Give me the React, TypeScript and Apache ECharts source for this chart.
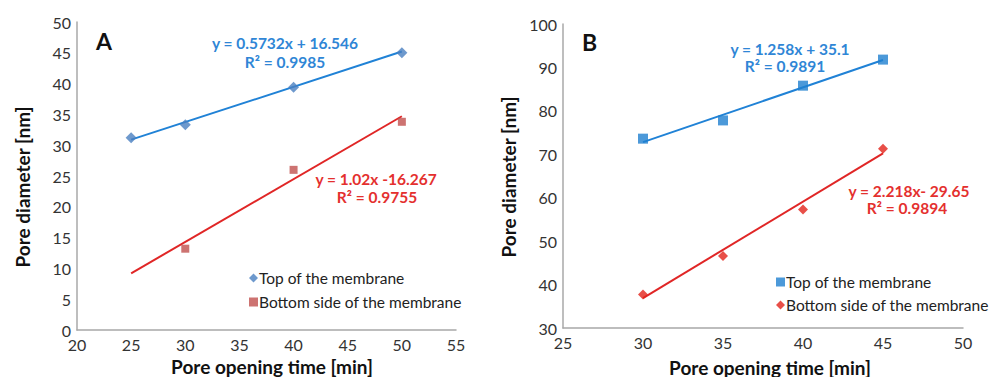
import React, { useEffect, useRef } from "react";
import * as echarts from "echarts";

// Panel A data
const aTop: [number, number][] = [[25, 31.2], [30, 33.3], [40, 39.4], [50, 45.0]];
const aBottom: [number, number][] = [[30, 13.2], [40, 26.0], [50, 33.8]];
const aTopTrend: [number, number][] = [[25, 30.9], [50, 45.2]];
const aBottomTrend: [number, number][] = [[25, 9.2], [50, 34.7]];
// Panel B data
const bTop: [number, number][] = [[30, 73.6], [35, 77.8], [40, 85.8], [45, 91.8]];
const bBottom: [number, number][] = [[30, 37.7], [35, 46.6], [40, 57.3], [45, 71.3]];
const bTopTrend: [number, number][] = [[30, 72.8], [45, 91.7]];
const bBottomTrend: [number, number][] = [[30, 36.9], [45, 70.2]];

const seriesNames = ["Top of the membrane", "Bottom side of the membrane"];
const eqA = ["y = 0.5732x + 16.546", "R² = 0.9985", "y = 1.02x -16.267", "R² = 0.9755"];
const eqB = ["y = 1.258x + 35.1", "R² = 0.9891", "y = 2.218x- 29.65", "R² = 0.9894"];
const xTitle = "Pore opening time [min]";
const yTitle = "Pore diameter [nm]";

const FONT = "Lato, 'Open Sans', sans-serif";
const AXIS_COLOR = "#a8a8a8";
const BLUE_LINE = "#2082d6";
const RED_LINE = "#e02626";
const BLUE_TXT = "#2f86d6";
const RED_TXT = "#e4302e";

export default function App() {
  const ref = useRef<HTMLDivElement>(null);
  useEffect(() => {
    document.body.style.margin = "0";
    const chart = echarts.init(ref.current!, undefined, { renderer: "svg" });
    const axisCommon = {
      type: "value" as const,
      axisLine: { show: true, lineStyle: { color: AXIS_COLOR, width: 1.5 } },
      axisTick: { show: false },
      splitLine: { show: false },
      axisLabel: { color: "#333", fontSize: 16, fontFamily: FONT, margin: 6 },
    };
    const eqText = (x: number, y: number, text: string, color: string) => ({
      type: "text",
      x,
      y,
      style: {
        text,
        fill: color,
        font: `bold 15.5px ${FONT}`,
        align: "center",
        verticalAlign: "middle",
      },
    });
    const titleText = (x: number, y: number, text: string, rotation = 0) => ({
      type: "text",
      x,
      y,
      rotation,
      style: {
        text,
        fill: "#111",
        font: `bold 19px ${FONT}`,
        align: "center",
        verticalAlign: "middle",
      },
    });
    const legendText = { color: "#222", fontSize: 15.5, fontFamily: FONT, padding: [0, 0, 0, -4] };
    chart.setOption({
      animation: false,
      grid: [
        { left: 77, right: 551, top: 22, bottom: 47 },
        { left: 563, right: 44, top: 24, bottom: 49 },
      ],
      xAxis: [
        { ...axisCommon, gridIndex: 0, min: 20, max: 55, interval: 5 },
        { ...axisCommon, gridIndex: 1, min: 25, max: 50, interval: 5 },
      ],
      yAxis: [
        { ...axisCommon, gridIndex: 0, min: 0, max: 50, interval: 5 },
        { ...axisCommon, gridIndex: 1, min: 30, max: 100, interval: 10 },
      ],
      legend: [
        {
          orient: "vertical", left: 244, top: 265, itemWidth: 9, itemHeight: 9, itemGap: 8,
          textStyle: legendText,
          data: [
            { name: seriesNames[0], icon: "diamond", itemStyle: { color: "#4a7fc0" } },
            { name: seriesNames[1], icon: "rect", itemStyle: { color: "#c0504d" } },
          ],
        },
        {
          orient: "vertical", left: 771, top: 269, itemWidth: 9, itemHeight: 9, itemGap: 7,
          textStyle: legendText,
          data: [
            { name: seriesNames[0], icon: "rect", itemStyle: { color: "#1f7fd0" } },
            { name: seriesNames[1], icon: "diamond", itemStyle: { color: "#e2231a" } },
          ],
        },
      ],
      series: [
        { type: "line", xAxisIndex: 0, yAxisIndex: 0, data: aTopTrend, showSymbol: false, symbol: "none",
          lineStyle: { color: BLUE_LINE, width: 2 }, z: 1, silent: true },
        { type: "line", xAxisIndex: 0, yAxisIndex: 0, data: aBottomTrend, showSymbol: false, symbol: "none",
          lineStyle: { color: RED_LINE, width: 2 }, z: 1, silent: true },
        { type: "scatter", name: seriesNames[0], xAxisIndex: 0, yAxisIndex: 0, data: aTop, symbol: "diamond",
          symbolSize: 11, itemStyle: { color: "#4a7fc0" }, z: 3 },
        { type: "scatter", name: seriesNames[1], xAxisIndex: 0, yAxisIndex: 0, data: aBottom, symbol: "rect",
          symbolSize: 8, itemStyle: { color: "#c0504d" }, z: 3 },
        { type: "line", xAxisIndex: 1, yAxisIndex: 1, data: bTopTrend, showSymbol: false, symbol: "none",
          lineStyle: { color: BLUE_LINE, width: 2 }, z: 1, silent: true },
        { type: "line", xAxisIndex: 1, yAxisIndex: 1, data: bBottomTrend, showSymbol: false, symbol: "none",
          lineStyle: { color: RED_LINE, width: 2 }, z: 1, silent: true },
        { type: "scatter", name: seriesNames[0], xAxisIndex: 1, yAxisIndex: 1, data: bTop, symbol: "rect",
          symbolSize: 10, itemStyle: { color: "#1f7fd0" }, z: 3 },
        { type: "scatter", name: seriesNames[1], xAxisIndex: 1, yAxisIndex: 1, data: bBottom, symbol: "diamond",
          symbolSize: 10, itemStyle: { color: "#e2231a" }, z: 3 },
      ],
      graphic: [
        { type: "text", x: 96, y: 29, style: { text: "A", fill: "#111", font: `bold 23px ${FONT}` } },
        { type: "text", x: 582, y: 30, style: { text: "B", fill: "#111", font: `bold 23px ${FONT}` } },
        titleText(22, 187, yTitle, Math.PI / 2),
        titleText(508, 177, yTitle, Math.PI / 2),
        titleText(272, 366, xTitle),
        titleText(770, 367, xTitle),
        eqText(285, 43, eqA[0], BLUE_TXT),
        eqText(285, 62, eqA[1], BLUE_TXT),
        eqText(376, 179, eqA[2], RED_TXT),
        eqText(377, 197, eqA[3], RED_TXT),
        eqText(790, 49, eqB[0], BLUE_TXT),
        eqText(785, 66, eqB[1], BLUE_TXT),
        eqText(909, 191, eqB[2], RED_TXT),
        eqText(907, 208, eqB[3], RED_TXT),
      ],
    });
    return () => chart.dispose();
  }, []);
  return <div ref={ref} style={{ width: 1007, height: 377 }} />;
}
